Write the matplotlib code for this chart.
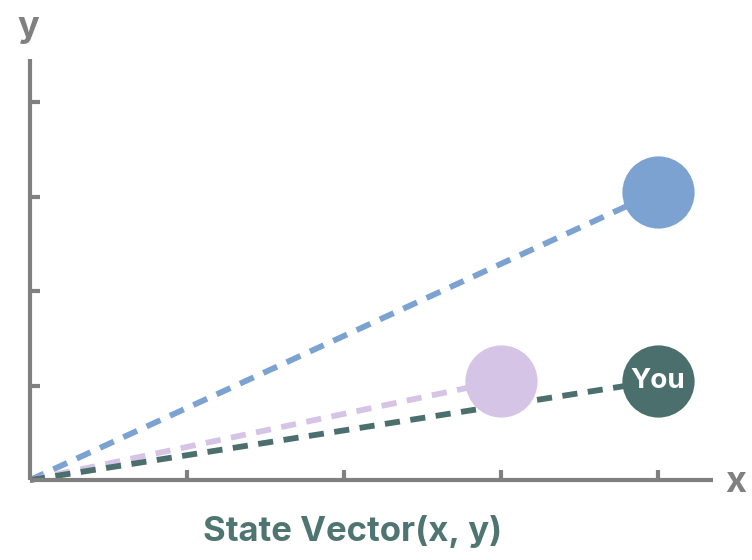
import matplotlib
matplotlib.use("Agg")
import matplotlib.pyplot as plt

# Data
names = ["Blue", "Purple", "You"]
xs = [4, 3, 4]
ys = [3.05, 1.05, 1.05]
colors = ["#7BA2D0", "#D6C4E7", "#4B6F6C"]
labels = ["", "", "You"]
xticks = [1, 2, 3, 4]
yticks = [1, 2, 3, 4]

plt.rcParams['font.family'] = ['Inter', 'DejaVu Sans']

fig = plt.figure(figsize=(7.52, 5.6), dpi=100)
W, H = 752, 560
x0, y0 = 30, 480
px_x, px_y = 157, 94.5
xmax, ymax = 4.35, 4.45
ax = fig.add_axes([x0 / W, (H - y0) / H, xmax * px_x / W, ymax * px_y / H])
ax.set_xlim(0, xmax)
ax.set_ylim(0, ymax)

axis_col = "#808080"
for s in ["top", "right"]:
    ax.spines[s].set_visible(False)
for s in ["left", "bottom"]:
    ax.spines[s].set_color(axis_col)
    ax.spines[s].set_linewidth(3.0)
    ax.spines[s].set_capstyle("butt")

ax.set_xticks(xticks)
ax.set_yticks(yticks)
ax.set_xticklabels([])
ax.set_yticklabels([])
ax.tick_params(direction="in", length=7, width=3.0, color=axis_col)

# dashed lines from origin
for x, y, c in zip(xs, ys, colors):
    ax.plot([0, x], [0, y], linestyle=(0, (2.6, 1.8)), color=c, linewidth=4.2,
            dash_capstyle="butt", zorder=2, clip_on=False)

# circles
for x, y, c, lab in zip(xs, ys, colors, labels):
    ax.scatter([x], [y], s=52 ** 2, color=c, zorder=3, clip_on=False, linewidths=0)
    if lab:
        ax.text(x, y, lab, color="white", fontsize=20, fontweight="bold",
                ha="center", va="center", zorder=4)

fig.text(28 / W, 1 - 27 / H, "y", color=axis_col, fontsize=26, fontweight="bold",
         ha="center", va="center")
fig.text(736 / W, 1 - 482 / H, "x", color=axis_col, fontsize=26, fontweight="bold",
         ha="center", va="center")
fig.text(353 / W, 1 - 532 / H, "State Vector(x, y)", color="#4F7573", fontsize=25,
         fontweight="bold", ha="center", va="center")

fig.savefig("out.png", dpi=100)
